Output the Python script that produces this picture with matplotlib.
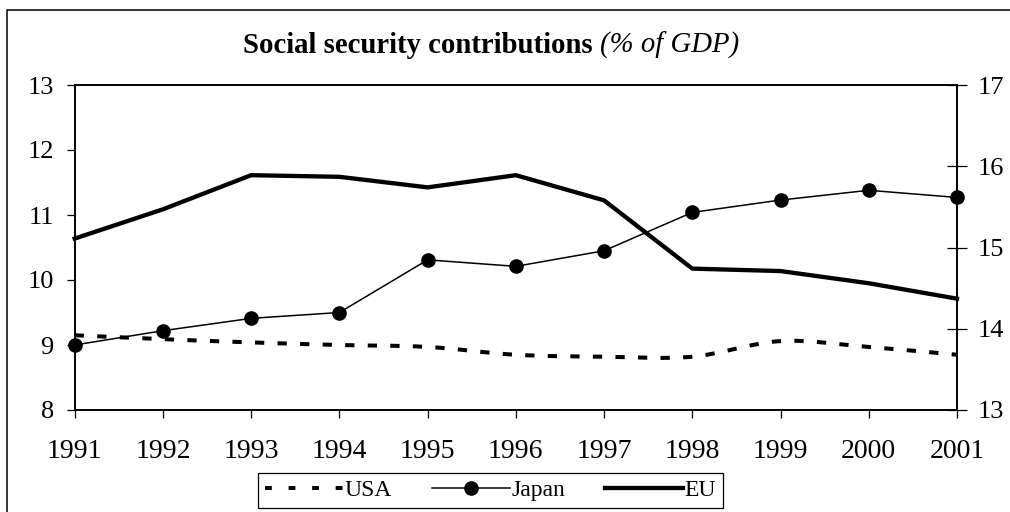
import matplotlib
matplotlib.use("Agg")
import matplotlib.pyplot as plt
from matplotlib.path import Path
from matplotlib.patches import PathPatch, Rectangle
from matplotlib.lines import Line2D
import numpy as np

plt.rcParams['font.family'] = ['Liberation Serif', 'DejaVu Serif']

years = [1991, 1992, 1993, 1994, 1995, 1996, 1997, 1998, 1999, 2000, 2001]
usa = [9.15, 9.09, 9.04, 9.00, 8.97, 8.85, 8.82, 8.82, 9.06, 8.97, 8.85]
japan = [9.00, 9.22, 9.41, 9.50, 10.31, 10.21, 10.45, 11.04, 11.23, 11.38, 11.27]
eu = [15.11, 15.47, 15.89, 15.87, 15.74, 15.89, 15.58, 14.74, 14.71, 14.56, 14.37]

left_ticks = [8, 9, 10, 11, 12, 13]
right_ticks = [13, 14, 15, 16, 17]

W, H = 1010, 512
fig = plt.figure(figsize=(W / 100, H / 100), dpi=100)
fig.patch.set_facecolor('white')

ax = fig.add_axes([74.7 / W, 1 - 410 / H, (957 - 74.7) / W, (410 - 85) / H])
ax2 = ax.twinx()

usa_style = (0, (2.3, 3.3))


def smooth_path(xs, ys):
    """Cubic Bezier path through the points (Catmull-Rom style smoothing)."""
    pts = np.column_stack([xs, ys]).astype(float)
    n = len(pts)
    verts = [pts[0]]
    codes = [Path.MOVETO]
    for i in range(n - 1):
        p0 = pts[i - 1] if i > 0 else pts[i]
        p1 = pts[i]
        p2 = pts[i + 1]
        p3 = pts[i + 2] if i + 2 < n else pts[i + 1]
        c1 = p1 + (p2 - p0) / 6.0
        c2 = p2 - (p3 - p1) / 6.0
        verts += [c1, c2, p2]
        codes += [Path.CURVE4] * 3
    return Path(verts, codes)


# USA: smoothed dashed line
usa_patch = PathPatch(smooth_path(years, usa), facecolor='none', edgecolor='black',
                      linewidth=2.9, linestyle=usa_style, capstyle='butt')
ax.add_patch(usa_patch)

# Japan: thin line with round markers
ax.plot(years, japan, color='black', linewidth=1.1, marker='o', markersize=9.5,
        clip_on=False, zorder=3)

# EU: thick line on the right axis
ax2.plot(years, eu, color='black', linewidth=3.1, solid_joinstyle='miter',
         clip_on=False, zorder=3)

ax.set_xlim(1991, 2001)
ax.set_ylim(8, 13)
ax2.set_ylim(13, 17)
ax.set_xticks(years)
ax.set_xticklabels([str(y) for y in years], fontsize=20)
ax.set_yticks(left_ticks)
ax.set_yticklabels([str(t) for t in left_ticks], fontsize=19)
ax2.set_yticks(right_ticks)
ax2.set_yticklabels([str(t) for t in right_ticks], fontsize=19)

for a in (ax, ax2):
    for s in a.spines.values():
        s.set_linewidth(1.2)
        s.set_color('black')

ax.tick_params(axis='x', direction='out', length=6, width=0.9, pad=15, colors='black')
ax.tick_params(axis='y', direction='out', length=5.5, width=0.9, pad=9.5, colors='black')
ax2.tick_params(axis='y', direction='inout', length=13.7, width=0.9, pad=8, colors='black')

# Title: bold main text followed by italic unit text
fig.canvas.draw()
renderer = fig.canvas.get_renderer()
t1 = fig.text(0, 1 - 53 / H, 'Social security contributions ', fontsize=20.7,
              fontweight='bold', ha='left', va='baseline')
t2 = fig.text(0, 1 - 53 / H, '(% of GDP)', fontsize=20.7, fontstyle='italic',
              ha='left', va='baseline')
w1 = t1.get_window_extent(renderer).width
w2 = t2.get_window_extent(renderer).width
x0 = 491.5 - (w1 + w2) / 2
t1.set_x(x0 / W)
t2.set_x((x0 + w1) / W)

# Legend
handles = [
    Line2D([], [], color='black', linewidth=2.9, linestyle=(0, (1.7, 4.15)),
           dash_capstyle='butt'),
    Line2D([], [], color='black', linewidth=1.1, marker='o', markersize=9.5),
    Line2D([], [], color='black', linewidth=3.1),
]
leg = fig.legend(handles, ['USA', 'Japan', 'EU'], loc='center',
                 bbox_to_anchor=(490.5 / W, 1 - 490.5 / H), ncol=3, fontsize=17,
                 frameon=True, fancybox=False, framealpha=1, edgecolor='black',
                 handlelength=3.3, handletextpad=0.05, columnspacing=1.7,
                 borderpad=0.3, borderaxespad=0)
leg.get_frame().set_linewidth(0.9)

# Outer frame of the chart area
fig.patches.append(Rectangle((6.5 / W, -0.1), 1.2, 1 - 10 / H + 0.1,
                             transform=fig.transFigure, fill=False,
                             edgecolor='black', linewidth=1.1))

fig.savefig('out.png', dpi=100, facecolor='white')
